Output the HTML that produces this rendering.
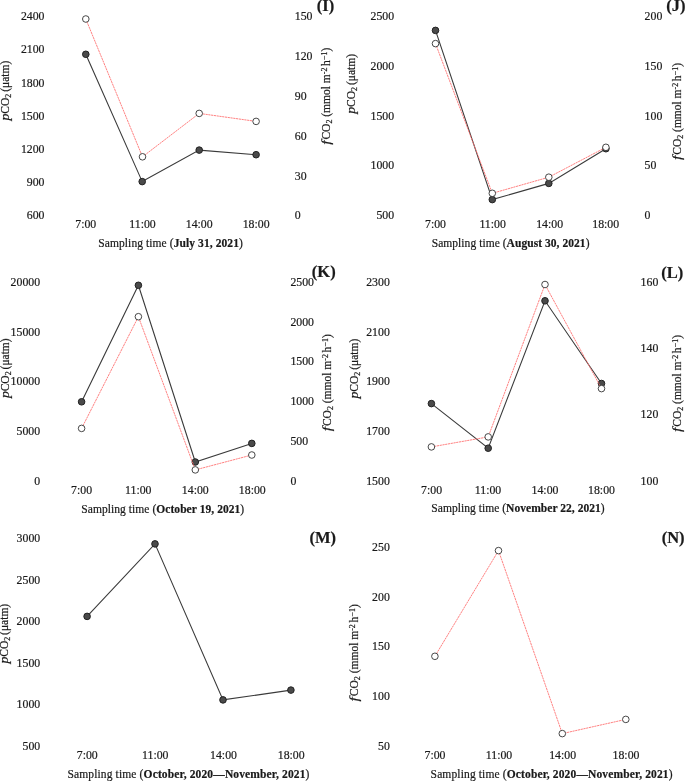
<!DOCTYPE html>
<html><head><meta charset="utf-8"><style>
html,body{margin:0;padding:0;background:#fff;width:685px;height:781px;overflow:hidden}
svg{display:block;filter:blur(0.3px);font-family:"Liberation Serif",serif;font-size:11.5px;fill:#1a1a1a}
</style></head><body>
<svg width="685" height="781" viewBox="0 0 685 781">
<rect width="685" height="781" fill="#fff"/>
<g fill="#1a1a1a" stroke="#1a1a1a" stroke-width="0.2">
<text x="44.5" y="20.2" text-anchor="end" font-size="11.8">2400</text>
<text x="44.5" y="53.3" text-anchor="end" font-size="11.8">2100</text>
<text x="44.5" y="86.5" text-anchor="end" font-size="11.8">1800</text>
<text x="44.5" y="119.7" text-anchor="end" font-size="11.8">1500</text>
<text x="44.5" y="152.8" text-anchor="end" font-size="11.8">1200</text>
<text x="44.5" y="185.9" text-anchor="end" font-size="11.8">900</text>
<text x="44.5" y="219.1" text-anchor="end" font-size="11.8">600</text>
<text x="294.8" y="20.1" font-size="11.8">150</text>
<text x="294.8" y="60.0" font-size="11.8">120</text>
<text x="294.8" y="99.9" font-size="11.8">90</text>
<text x="294.8" y="139.9" font-size="11.8">60</text>
<text x="294.8" y="179.9" font-size="11.8">30</text>
<text x="294.8" y="219.0" font-size="11.8">0</text>
<text x="85.8" y="227.8" text-anchor="middle" font-size="11.8">7:00</text>
<text x="142.5" y="227.8" text-anchor="middle" font-size="11.8">11:00</text>
<text x="199.2" y="227.8" text-anchor="middle" font-size="11.8">14:00</text>
<text x="256.1" y="227.8" text-anchor="middle" font-size="11.8">18:00</text>
<text x="98.3" y="247.3" textLength="144.5" lengthAdjust="spacing">Sampling time (<tspan font-weight="bold">July 31, 2021</tspan>)</text>
<text transform="translate(9.10,120.45) rotate(-90) scale(1.2,1)" font-style="italic">p</text>
<text transform="translate(9.10,113.65) rotate(-90)">CO<tspan font-size="8" dy="2">2</tspan><tspan dy="-2" dx="-1.0"> (μatm)</tspan></text>
<text transform="translate(329.70,144.80) rotate(-90) scale(1.3,1)" font-style="italic" font-size="12">f</text>
<text transform="translate(329.70,139.59) rotate(-90)">CO<tspan font-size="8" dy="2">2</tspan><tspan dy="-2"> (mmol m</tspan><tspan font-size="8" dy="-3.1">-2</tspan><tspan dy="3.1" dx="1.6">h</tspan><tspan font-size="8" dy="-3.1" dx="0.2">−1</tspan><tspan dy="3.1">)</tspan></text>
<text x="316.8" y="11.3" font-weight="bold" font-size="16.5">(I)</text>
<polyline points="85.8,54.3 142.2,181.6 199.2,150.1 256.1,154.7" fill="none" stroke="#3a3a3a" stroke-width="1.1"/>
<circle cx="85.8" cy="54.3" r="3.3" fill="#4a4a4a" stroke="#222" stroke-width="1"/>
<circle cx="142.2" cy="181.6" r="3.3" fill="#4a4a4a" stroke="#222" stroke-width="1"/>
<circle cx="199.2" cy="150.1" r="3.3" fill="#4a4a4a" stroke="#222" stroke-width="1"/>
<circle cx="256.1" cy="154.7" r="3.3" fill="#4a4a4a" stroke="#222" stroke-width="1"/>
<polyline points="85.8,19.0 142.5,156.8 199.2,113.4 256.1,121.4" fill="none" stroke="#ff6a6a" stroke-width="0.85" stroke-dasharray="2.2,0.6"/>
<circle cx="85.8" cy="19.0" r="3.3" fill="#fff" stroke="#333" stroke-width="0.9"/>
<circle cx="142.5" cy="156.8" r="3.3" fill="#fff" stroke="#333" stroke-width="0.9"/>
<circle cx="199.2" cy="113.4" r="3.3" fill="#fff" stroke="#333" stroke-width="0.9"/>
<circle cx="256.1" cy="121.4" r="3.3" fill="#fff" stroke="#333" stroke-width="0.9"/>
<text x="394.1" y="20.1" text-anchor="end" font-size="11.8">2500</text>
<text x="394.1" y="69.9" text-anchor="end" font-size="11.8">2000</text>
<text x="394.1" y="119.7" text-anchor="end" font-size="11.8">1500</text>
<text x="394.1" y="169.4" text-anchor="end" font-size="11.8">1000</text>
<text x="394.1" y="219.2" text-anchor="end" font-size="11.8">500</text>
<text x="644.6" y="20.1" font-size="11.8">200</text>
<text x="644.6" y="69.9" font-size="11.8">150</text>
<text x="644.6" y="119.7" font-size="11.8">100</text>
<text x="644.6" y="169.4" font-size="11.8">50</text>
<text x="644.6" y="219.2" font-size="11.8">0</text>
<text x="435.5" y="227.8" text-anchor="middle" font-size="11.8">7:00</text>
<text x="492.6" y="227.8" text-anchor="middle" font-size="11.8">11:00</text>
<text x="549.6" y="227.8" text-anchor="middle" font-size="11.8">14:00</text>
<text x="605.7" y="227.8" text-anchor="middle" font-size="11.8">18:00</text>
<text x="431.7" y="247.4" textLength="157.8" lengthAdjust="spacing">Sampling time (<tspan font-weight="bold">August 30, 2021</tspan>)</text>
<text transform="translate(354.50,113.70) rotate(-90) scale(1.2,1)" font-style="italic">p</text>
<text transform="translate(354.50,106.90) rotate(-90)">CO<tspan font-size="8" dy="2">2</tspan><tspan dy="-2" dx="-1.0"> (μatm)</tspan></text>
<text transform="translate(681.20,160.00) rotate(-90) scale(1.3,1)" font-style="italic" font-size="12">f</text>
<text transform="translate(681.20,154.79) rotate(-90)">CO<tspan font-size="8" dy="2">2</tspan><tspan dy="-2"> (mmol m</tspan><tspan font-size="8" dy="-3.1">-2</tspan><tspan dy="3.1" dx="1.6">h</tspan><tspan font-size="8" dy="-3.1" dx="0.2">−1</tspan><tspan dy="3.1">)</tspan></text>
<text x="666.2" y="11.4" font-weight="bold" font-size="16.5">(J)</text>
<polyline points="435.5,30.4 492.3,199.6 548.8,183.4 605.9,148.7" fill="none" stroke="#3a3a3a" stroke-width="1.1"/>
<circle cx="435.5" cy="30.4" r="3.3" fill="#4a4a4a" stroke="#222" stroke-width="1"/>
<circle cx="492.3" cy="199.6" r="3.3" fill="#4a4a4a" stroke="#222" stroke-width="1"/>
<circle cx="548.8" cy="183.4" r="3.3" fill="#4a4a4a" stroke="#222" stroke-width="1"/>
<circle cx="605.9" cy="148.7" r="3.3" fill="#4a4a4a" stroke="#222" stroke-width="1"/>
<polyline points="435.5,43.6 492.3,193.3 548.8,177.2 605.9,147.3" fill="none" stroke="#ff6a6a" stroke-width="0.85" stroke-dasharray="2.2,0.6"/>
<circle cx="435.5" cy="43.6" r="3.3" fill="#fff" stroke="#333" stroke-width="0.9"/>
<circle cx="492.3" cy="193.3" r="3.3" fill="#fff" stroke="#333" stroke-width="0.9"/>
<circle cx="548.8" cy="177.2" r="3.3" fill="#fff" stroke="#333" stroke-width="0.9"/>
<circle cx="605.9" cy="147.3" r="3.3" fill="#fff" stroke="#333" stroke-width="0.9"/>
<text x="40.1" y="285.9" text-anchor="end" font-size="11.8">20000</text>
<text x="40.1" y="335.6" text-anchor="end" font-size="11.8">15000</text>
<text x="40.1" y="385.4" text-anchor="end" font-size="11.8">10000</text>
<text x="40.1" y="435.1" text-anchor="end" font-size="11.8">5000</text>
<text x="40.1" y="484.9" text-anchor="end" font-size="11.8">0</text>
<text x="290.4" y="285.9" font-size="11.8">2500</text>
<text x="290.4" y="325.6" font-size="11.8">2000</text>
<text x="290.4" y="365.4" font-size="11.8">1500</text>
<text x="290.4" y="405.1" font-size="11.8">1000</text>
<text x="290.4" y="444.9" font-size="11.8">500</text>
<text x="290.4" y="484.6" font-size="11.8">0</text>
<text x="81.6" y="493.8" text-anchor="middle" font-size="11.8">7:00</text>
<text x="138.3" y="493.8" text-anchor="middle" font-size="11.8">11:00</text>
<text x="195.3" y="493.8" text-anchor="middle" font-size="11.8">14:00</text>
<text x="252.3" y="493.8" text-anchor="middle" font-size="11.8">18:00</text>
<text x="81.3" y="512.5" textLength="162.9" lengthAdjust="spacing">Sampling time (<tspan font-weight="bold">October 19, 2021</tspan>)</text>
<text transform="translate(8.50,398.10) rotate(-90) scale(1.2,1)" font-style="italic">p</text>
<text transform="translate(8.50,391.30) rotate(-90)">CO<tspan font-size="8" dy="2">2</tspan><tspan dy="-2" dx="-1.0"> (μatm)</tspan></text>
<text transform="translate(330.70,431.30) rotate(-90) scale(1.3,1)" font-style="italic" font-size="12">f</text>
<text transform="translate(330.70,426.09) rotate(-90)">CO<tspan font-size="8" dy="2">2</tspan><tspan dy="-2"> (mmol m</tspan><tspan font-size="8" dy="-3.1">-2</tspan><tspan dy="3.1" dx="1.6">h</tspan><tspan font-size="8" dy="-3.1" dx="0.2">−1</tspan><tspan dy="3.1">)</tspan></text>
<text x="311.8" y="277.0" font-weight="bold" font-size="16.5">(K)</text>
<polyline points="81.6,401.8 138.4,285.3 195.3,462.0 251.8,443.4" fill="none" stroke="#3a3a3a" stroke-width="1.1"/>
<circle cx="81.6" cy="401.8" r="3.3" fill="#4a4a4a" stroke="#222" stroke-width="1"/>
<circle cx="138.4" cy="285.3" r="3.3" fill="#4a4a4a" stroke="#222" stroke-width="1"/>
<circle cx="195.3" cy="462.0" r="3.3" fill="#4a4a4a" stroke="#222" stroke-width="1"/>
<circle cx="251.8" cy="443.4" r="3.3" fill="#4a4a4a" stroke="#222" stroke-width="1"/>
<polyline points="81.6,428.4 138.4,316.7 195.3,469.9 251.8,455.0" fill="none" stroke="#ff6a6a" stroke-width="0.85" stroke-dasharray="2.2,0.6"/>
<circle cx="81.6" cy="428.4" r="3.3" fill="#fff" stroke="#333" stroke-width="0.9"/>
<circle cx="138.4" cy="316.7" r="3.3" fill="#fff" stroke="#333" stroke-width="0.9"/>
<circle cx="195.3" cy="469.9" r="3.3" fill="#fff" stroke="#333" stroke-width="0.9"/>
<circle cx="251.8" cy="455.0" r="3.3" fill="#fff" stroke="#333" stroke-width="0.9"/>
<text x="389.8" y="285.9" text-anchor="end" font-size="11.8">2300</text>
<text x="389.8" y="335.6" text-anchor="end" font-size="11.8">2100</text>
<text x="389.8" y="385.4" text-anchor="end" font-size="11.8">1900</text>
<text x="389.8" y="435.1" text-anchor="end" font-size="11.8">1700</text>
<text x="389.8" y="484.9" text-anchor="end" font-size="11.8">1500</text>
<text x="640.6" y="285.9" font-size="11.8">160</text>
<text x="640.6" y="352.2" font-size="11.8">140</text>
<text x="640.6" y="418.2" font-size="11.8">120</text>
<text x="640.6" y="484.9" font-size="11.8">100</text>
<text x="431.6" y="493.8" text-anchor="middle" font-size="11.8">7:00</text>
<text x="488.0" y="493.8" text-anchor="middle" font-size="11.8">11:00</text>
<text x="545.0" y="493.8" text-anchor="middle" font-size="11.8">14:00</text>
<text x="601.5" y="493.8" text-anchor="middle" font-size="11.8">18:00</text>
<text x="431.3" y="512.3" textLength="173.4" lengthAdjust="spacing">Sampling time (<tspan font-weight="bold">November 22, 2021</tspan>)</text>
<text transform="translate(357.90,398.45) rotate(-90) scale(1.2,1)" font-style="italic">p</text>
<text transform="translate(357.90,391.65) rotate(-90)">CO<tspan font-size="8" dy="2">2</tspan><tspan dy="-2" dx="-1.0"> (μatm)</tspan></text>
<text transform="translate(680.70,432.00) rotate(-90) scale(1.3,1)" font-style="italic" font-size="12">f</text>
<text transform="translate(680.70,426.79) rotate(-90)">CO<tspan font-size="8" dy="2">2</tspan><tspan dy="-2"> (mmol m</tspan><tspan font-size="8" dy="-3.1">-2</tspan><tspan dy="3.1" dx="1.6">h</tspan><tspan font-size="8" dy="-3.1" dx="0.2">−1</tspan><tspan dy="3.1">)</tspan></text>
<text x="661.2" y="278.0" font-weight="bold" font-size="16.5">(L)</text>
<polyline points="431.4,403.6 488.2,448.2 545.0,300.8 601.5,383.5" fill="none" stroke="#3a3a3a" stroke-width="1.1"/>
<circle cx="431.4" cy="403.6" r="3.3" fill="#4a4a4a" stroke="#222" stroke-width="1"/>
<circle cx="488.2" cy="448.2" r="3.3" fill="#4a4a4a" stroke="#222" stroke-width="1"/>
<circle cx="545.0" cy="300.8" r="3.3" fill="#4a4a4a" stroke="#222" stroke-width="1"/>
<circle cx="601.5" cy="383.5" r="3.3" fill="#4a4a4a" stroke="#222" stroke-width="1"/>
<polyline points="431.4,446.9 488.2,436.9 545.0,284.5 601.5,388.6" fill="none" stroke="#ff6a6a" stroke-width="0.85" stroke-dasharray="2.2,0.6"/>
<circle cx="431.4" cy="446.9" r="3.3" fill="#fff" stroke="#333" stroke-width="0.9"/>
<circle cx="488.2" cy="436.9" r="3.3" fill="#fff" stroke="#333" stroke-width="0.9"/>
<circle cx="545.0" cy="284.5" r="3.3" fill="#fff" stroke="#333" stroke-width="0.9"/>
<circle cx="601.5" cy="388.6" r="3.3" fill="#fff" stroke="#333" stroke-width="0.9"/>
<text x="40.2" y="542.0" text-anchor="end" font-size="11.8">3000</text>
<text x="40.2" y="583.6" text-anchor="end" font-size="11.8">2500</text>
<text x="40.2" y="625.2" text-anchor="end" font-size="11.8">2000</text>
<text x="40.2" y="666.8" text-anchor="end" font-size="11.8">1500</text>
<text x="40.2" y="708.4" text-anchor="end" font-size="11.8">1000</text>
<text x="40.2" y="750.0" text-anchor="end" font-size="11.8">500</text>
<text x="87.3" y="759.2" text-anchor="middle" font-size="11.8">7:00</text>
<text x="155.3" y="759.2" text-anchor="middle" font-size="11.8">11:00</text>
<text x="223.5" y="759.2" text-anchor="middle" font-size="11.8">14:00</text>
<text x="291.2" y="759.2" text-anchor="middle" font-size="11.8">18:00</text>
<text x="67.4" y="778.2" textLength="242.0" lengthAdjust="spacing">Sampling time (<tspan font-weight="bold">October, 2020—November, 2021</tspan>)</text>
<text transform="translate(8.30,663.55) rotate(-90) scale(1.2,1)" font-style="italic">p</text>
<text transform="translate(8.30,656.75) rotate(-90)">CO<tspan font-size="8" dy="2">2</tspan><tspan dy="-2" dx="-1.0"> (μatm)</tspan></text>
<text x="309.4" y="542.6" font-weight="bold" font-size="16.5">(M)</text>
<polyline points="87.1,616.4 155.0,543.9 223.0,699.9 290.9,690.1" fill="none" stroke="#3a3a3a" stroke-width="1.1"/>
<circle cx="87.1" cy="616.4" r="3.3" fill="#4a4a4a" stroke="#222" stroke-width="1"/>
<circle cx="155.0" cy="543.9" r="3.3" fill="#4a4a4a" stroke="#222" stroke-width="1"/>
<circle cx="223.0" cy="699.9" r="3.3" fill="#4a4a4a" stroke="#222" stroke-width="1"/>
<circle cx="290.9" cy="690.1" r="3.3" fill="#4a4a4a" stroke="#222" stroke-width="1"/>
<text x="389.8" y="551.0" text-anchor="end" font-size="11.8">250</text>
<text x="389.8" y="600.7" text-anchor="end" font-size="11.8">200</text>
<text x="389.8" y="650.4" text-anchor="end" font-size="11.8">150</text>
<text x="389.8" y="700.0" text-anchor="end" font-size="11.8">100</text>
<text x="389.8" y="749.7" text-anchor="end" font-size="11.8">50</text>
<text x="435.0" y="758.7" text-anchor="middle" font-size="11.8">7:00</text>
<text x="499.0" y="758.7" text-anchor="middle" font-size="11.8">11:00</text>
<text x="562.6" y="758.7" text-anchor="middle" font-size="11.8">14:00</text>
<text x="626.0" y="758.7" text-anchor="middle" font-size="11.8">18:00</text>
<text x="430.6" y="778.0" textLength="241.9" lengthAdjust="spacing">Sampling time (<tspan font-weight="bold">October, 2020—November, 2021</tspan>)</text>
<text transform="translate(357.70,701.40) rotate(-90) scale(1.3,1)" font-style="italic" font-size="12">f</text>
<text transform="translate(357.70,696.19) rotate(-90)">CO<tspan font-size="8" dy="2">2</tspan><tspan dy="-2"> (mmol m</tspan><tspan font-size="8" dy="-3.1">-2</tspan><tspan dy="3.1" dx="1.6">h</tspan><tspan font-size="8" dy="-3.1" dx="0.2">−1</tspan><tspan dy="3.1">)</tspan></text>
<text x="661.7" y="542.6" font-weight="bold" font-size="16.5">(N)</text>
<polyline points="434.9,656.3 498.5,550.6 562.3,733.6 625.8,719.4" fill="none" stroke="#ff6a6a" stroke-width="0.85" stroke-dasharray="2.2,0.6"/>
<circle cx="434.9" cy="656.3" r="3.3" fill="#fff" stroke="#333" stroke-width="0.9"/>
<circle cx="498.5" cy="550.6" r="3.3" fill="#fff" stroke="#333" stroke-width="0.9"/>
<circle cx="562.3" cy="733.6" r="3.3" fill="#fff" stroke="#333" stroke-width="0.9"/>
<circle cx="625.8" cy="719.4" r="3.3" fill="#fff" stroke="#333" stroke-width="0.9"/>
</g>
</svg>
</body></html>
